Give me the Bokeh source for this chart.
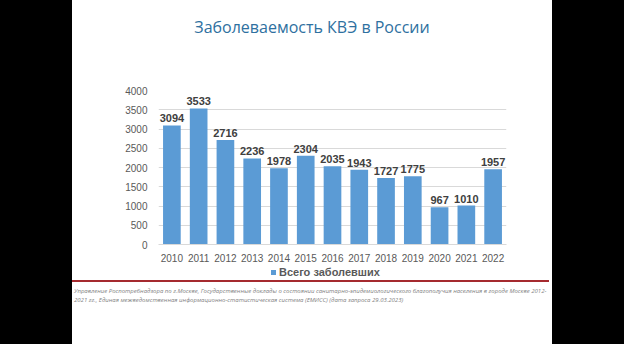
from bokeh.plotting import figure
from bokeh.models import (ColumnDataSource, Range1d, FixedTicker, LabelSet, Div)
from bokeh.layouts import row, column
from bokeh.embed import file_html
from bokeh.resources import INLINE
from bokeh.core.properties import value

years = ["2010", "2011", "2012", "2013", "2014", "2015", "2016",
         "2017", "2018", "2019", "2020", "2021", "2022"]
cases = [3094, 3533, 2716, 2236, 1978, 2304, 2035, 1943, 1727, 1775, 967, 1010, 1957]
y_ticks = [0, 500, 1000, 1500, 2000, 2500, 3000, 3500, 4000]
title_text = "Заболеваемость КВЭ в России"
series_name = "Всего заболевших"
note_1 = ("Управление Роспотребнадзора по г.Москве, Государственные доклады о состоянии "
          "санитарно-эпидемиологического благополучия населения в городе Москве 2012-")
note_2 = ("2021 гг., Единая межведомственная информационно-статистическая система (ЕМИСС) "
          "(дата запроса 29.03.2023)")
bar_color = "#5B9BD5"

src = ColumnDataSource(dict(year=years, cases=cases, txt=[str(v) for v in cases]))

p = figure(x_range=years, y_range=Range1d(0, 4000),
           frame_width=348, frame_height=154,
           min_border_left=86, min_border_right=46, min_border_top=20, min_border_bottom=22,
           output_backend="svg", toolbar_location=None,
           background_fill_color="white", border_fill_color="white", outline_line_color=None)

bars = p.vbar(x="year", top="cases", width=0.66, source=src,
              fill_color=bar_color, line_color=None)

p.yaxis.ticker = FixedTicker(ticks=y_ticks)
p.yaxis.axis_line_color = None
p.yaxis.major_tick_line_color = None
p.yaxis.minor_tick_line_color = None
p.yaxis.major_label_standoff = 5
p.yaxis.major_label_text_font = "Liberation Sans"
p.yaxis.major_label_text_font_size = "10px"
p.yaxis.major_label_text_color = "#595959"

p.xaxis.axis_line_color = "#D9D9D9"
p.xaxis.major_tick_line_color = None
p.xaxis.minor_tick_line_color = None
p.xaxis.major_label_standoff = 3
p.xaxis.major_label_text_font = "Liberation Sans"
p.xaxis.major_label_text_font_size = "10px"
p.xaxis.major_label_text_color = "#595959"

p.xgrid.grid_line_color = None
p.ygrid.grid_line_color = "#D9D9D9"

labels = LabelSet(x="year", y="cases", text="txt", source=src, y_offset=3,
                  text_align="center", text_baseline="bottom",
                  text_font=value("Liberation Sans"), text_font_size="11px",
                  text_font_style="bold", text_color="#404040")
p.add_layout(labels)

title_div = Div(
    text=(f'<div style="width:480px;text-align:center;padding-top:17px;'
          f'font-family:\'Open Sans\';font-size:16px;line-height:20px;color:#2E70A0;">'
          f'{title_text}</div>'),
    width=480, height=70, margin=0, styles={"background-color": "white"})

foot_div = Div(
    text=(f'<div style="height:12px;line-height:12px;padding-left:199px;white-space:nowrap;'
          f'font-family:\'Liberation Sans\';font-weight:bold;font-size:11px;color:#595959;">'
          f'<span style="display:inline-block;width:5px;height:5px;background:{bar_color};'
          f'margin-right:3px;vertical-align:1px;"></span>{series_name}</div>'
          f'<div style="width:477px;height:0;margin-top:2px;border-top:2px solid #A52A2F;"></div>'
          f'<div style="padding-top:5px;padding-left:2px;font-family:\'Open Sans\';'
          f'font-style:italic;font-size:6px;line-height:9px;color:#7F7F7F;'
          f'white-space:nowrap;">{note_1}<br>{note_2}</div>'),
    width=480, height=78, margin=0, styles={"background-color": "white"})

left = Div(width=72, height=344, margin=0, styles={"background-color": "black"})
right = Div(width=72, height=344, margin=0, styles={"background-color": "black"})
layout = row(left, column(title_div, p, foot_div, spacing=0), right, spacing=0)

open("out.html", "w").write(file_html(layout, INLINE))
